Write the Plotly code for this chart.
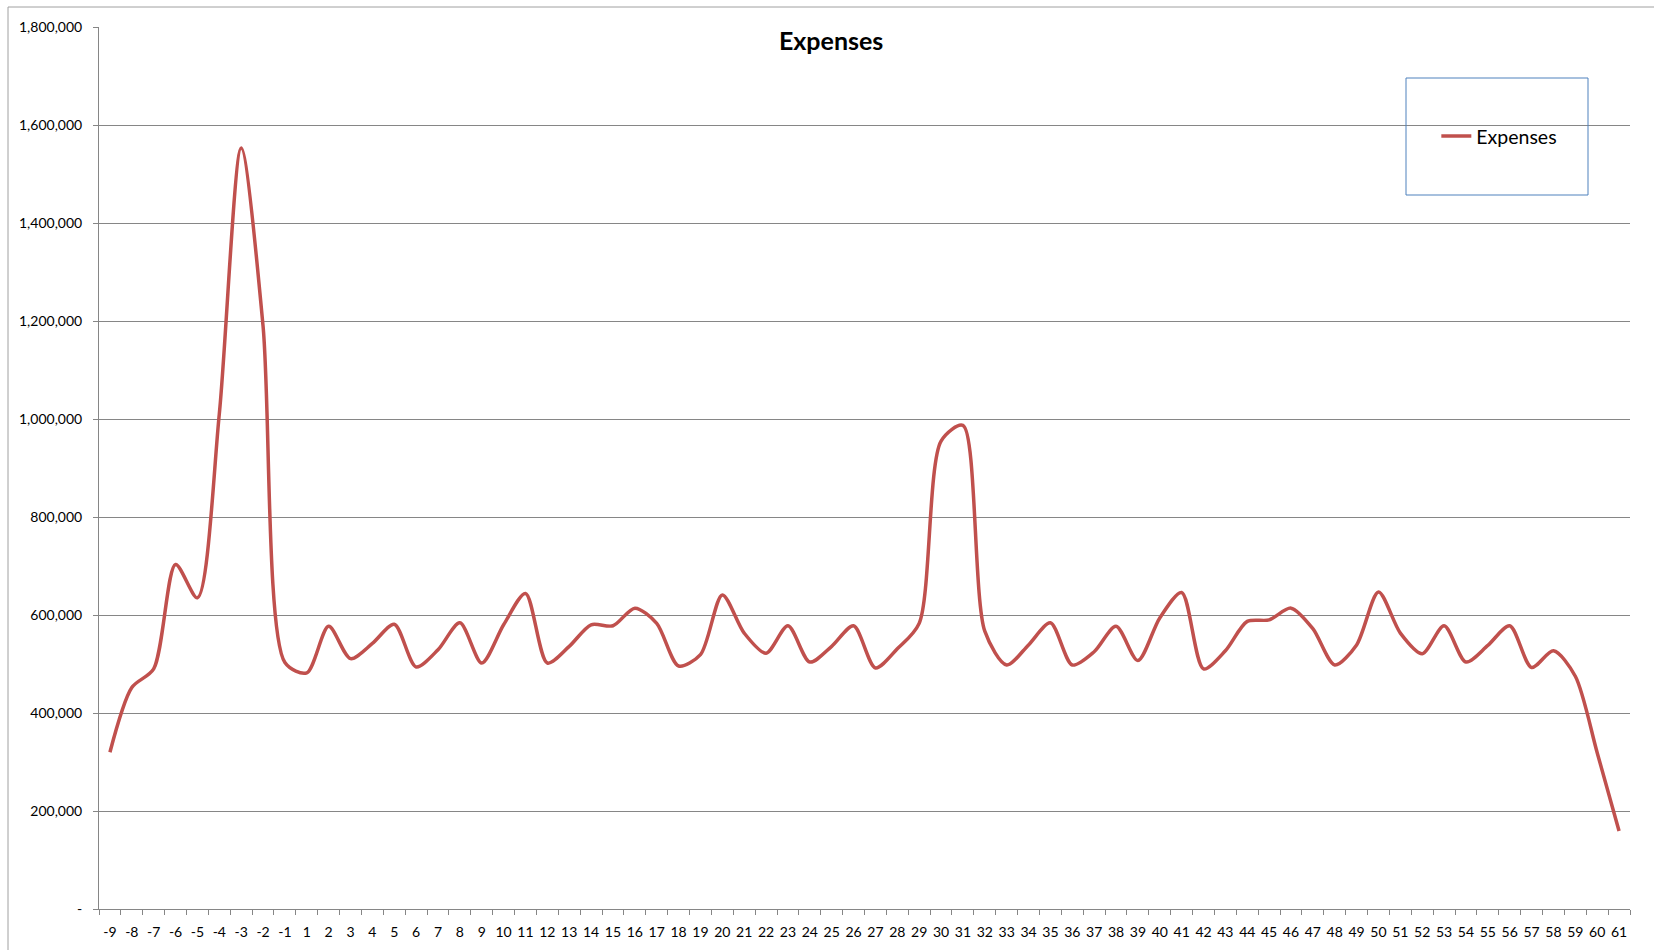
import plotly.graph_objects as go

categories = [str(i) for i in range(-9, 0)] + [str(i) for i in range(1, 62)]

expenses = [
    320000, 452000, 490000, 703000, 635000, 1010000, 1553000, 1190000, 503000,   # -9 .. -1
    482000, 577000, 511000, 542000, 581000, 494000, 529000, 584000, 502000, 580000,  # 1..10
    644000, 502000, 536000, 580000, 578000, 614000, 583000, 496000, 519000, 641000,  # 11..20
    563000, 522000, 578000, 504000, 536000, 578000, 492000, 531000, 583000, 955000,  # 21..30
    987000, 567000, 498000, 539000, 584000, 498000, 525000, 577000, 507000, 594000,  # 31..40
    646000, 490000, 527000, 587000, 590000, 614000, 572000, 498000, 539000, 647000,  # 41..50
    563000, 521000, 578000, 504000, 538000, 578000, 493000, 527000, 475000, 319000,  # 51..60
    159000,                                                                           # 61
]

y_tickvals = list(range(0, 1800001, 200000))
y_ticktext = ["-"] + [f"{v:,}" for v in y_tickvals[1:]]

FONT = "Lato, Carlito, Calibri, sans-serif"

fig = go.Figure()
fig.add_trace(go.Scatter(
    x=categories, y=expenses, name="Expenses", mode="lines",
    line=dict(color="#C0504D", width=3.5, shape="spline", smoothing=0.8),
))

fig.update_layout(
    width=1654, height=950,
    margin=dict(l=99, r=24, t=27, b=41, autoexpand=False),
    paper_bgcolor="white", plot_bgcolor="white",
    font=dict(family=FONT, color="#000000"),
    title=dict(text="<b>Expenses</b>", x=0.5025, xanchor="center", y=0.957, yanchor="middle",
               font=dict(size=25, family=FONT, color="#000000")),
    showlegend=True,
    legend=dict(x=0.8735, y=0.876, xanchor="left", yanchor="middle",
                bgcolor="rgba(0,0,0,0)", borderwidth=0,
                font=dict(size=19.5, family=FONT, color="#000000")),
    xaxis=dict(type="category", categoryorder="array", categoryarray=categories,
               range=[-0.5, len(categories) - 0.5],
               showgrid=False, showline=True, linecolor="#868686", linewidth=1,
               ticks="outside", tickson="boundaries", ticklen=5, tickcolor="#868686",
               tickangle=0, automargin=False, ticklabelstandoff=10,
               tickfont=dict(size=14, family=FONT, color="#000000"), zeroline=False),
    yaxis=dict(range=[0, 1800000], tickvals=y_tickvals, ticktext=y_ticktext,
               showgrid=True, gridcolor="#868686", gridwidth=1,
               showline=True, linecolor="#868686", linewidth=1,
               ticks="outside", ticklen=5, tickcolor="#868686", automargin=False,
               ticklabelstandoff=8,
               tickfont=dict(size=14, family=FONT, color="#000000"), zeroline=False),
    shapes=[
        # legend box
        dict(type="rect", xref="paper", yref="paper",
             x0=(1406 - 99) / 1531, x1=(1588 - 99) / 1531,
             y0=1 - (195 - 27) / 882, y1=1 - (78 - 27) / 882,
             line=dict(color="#4F81BD", width=1), fillcolor="rgba(0,0,0,0)", layer="above"),
        # outer chart-area border (top and left visible)
        dict(type="rect", xref="paper", yref="paper",
             x0=(8 - 99) / 1531, x1=1.2, y0=-0.3, y1=1 + (27 - 7) / 882,
             line=dict(color="#A0A0A0", width=1), fillcolor="rgba(0,0,0,0)", layer="below"),
    ],
)

fig.write_html("out.html", config={"displayModeBar": False},
               post_script="document.body.style.margin='0';")
